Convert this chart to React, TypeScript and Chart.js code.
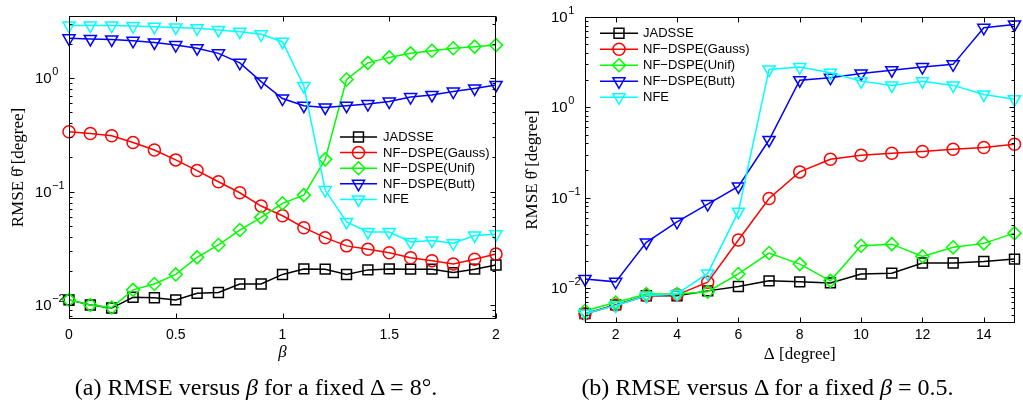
import React, { useEffect, useRef } from 'react';
import { Chart, registerables } from 'chart.js';

Chart.register(...registerables);

// ---------- panel (a): RMSE versus beta, fixed Delta = 8 deg ----------
const betaValues = [0, 0.1, 0.2, 0.3, 0.4, 0.5, 0.6, 0.7, 0.8, 0.9, 1.0, 1.1, 1.2, 1.3, 1.4, 1.5, 1.6, 1.7, 1.8, 1.9, 2.0];
const jadsseVsBeta = [0.0111, 0.01, 0.0094, 0.0117, 0.0116, 0.0111, 0.0127, 0.0129, 0.0153, 0.0153, 0.0186, 0.0208, 0.0207, 0.0186, 0.0204, 0.0208, 0.0207, 0.0207, 0.0193, 0.0207, 0.0225];
const gaussVsBeta = [0.336, 0.325, 0.31, 0.27, 0.232, 0.19, 0.153, 0.122, 0.0975, 0.0745, 0.0612, 0.048, 0.0392, 0.0332, 0.031, 0.0289, 0.0261, 0.0246, 0.023, 0.0253, 0.0281];
const unifVsBeta = [0.0111, 0.01, 0.0095, 0.0136, 0.0153, 0.0186, 0.0263, 0.0338, 0.0458, 0.0592, 0.0787, 0.093, 0.192, 0.97, 1.36, 1.52, 1.65, 1.74, 1.83, 1.89, 1.95];
const buttVsBeta = [2.24, 2.21, 2.19, 2.13, 2.06, 1.95, 1.83, 1.65, 1.36, 0.93, 0.66, 0.57, 0.55, 0.57, 0.59, 0.62, 0.68, 0.71, 0.76, 0.81, 0.87];
const nfeVsBeta = [2.9, 2.9, 2.9, 2.87, 2.83, 2.79, 2.74, 2.65, 2.56, 2.43, 2.09, 0.85, 0.103, 0.054, 0.044, 0.044, 0.036, 0.037, 0.035, 0.041, 0.042];
const betaXTicks = [0, 0.5, 1, 1.5, 2];
const betaXTickLabels = ['0', '0.5', '1', '1.5', '2'];
const betaYTicks = [0.01, 0.1, 1];
const betaYTickExponents = ['\u22122', '\u22121', '0'];

// ---------- panel (b): RMSE versus Delta, fixed beta = 0.5 ----------
const deltaValues = [1, 2, 3, 4, 5, 6, 7, 8, 9, 10, 11, 12, 13, 14, 15];
const jadsseVsDelta = [0.0052, 0.0065, 0.0082, 0.0082, 0.0093, 0.0104, 0.012, 0.0117, 0.0114, 0.0143, 0.0146, 0.0189, 0.0189, 0.0197, 0.0209];
const gaussVsDelta = [0.0052, 0.0065, 0.0082, 0.0084, 0.0116, 0.034, 0.098, 0.193, 0.266, 0.295, 0.31, 0.324, 0.344, 0.359, 0.39];
const unifVsDelta = [0.0056, 0.0069, 0.0086, 0.0086, 0.0091, 0.0143, 0.0244, 0.0184, 0.012, 0.0294, 0.0306, 0.0224, 0.0282, 0.0312, 0.0405];
const buttVsDelta = [0.0126, 0.0117, 0.032, 0.054, 0.085, 0.133, 0.435, 2.0, 2.13, 2.37, 2.58, 2.79, 2.99, 7.6, 8.26];
const nfeVsDelta = [0.0052, 0.0064, 0.0082, 0.0086, 0.0145, 0.07, 2.63, 2.79, 2.42, 1.95, 1.75, 1.95, 1.75, 1.39, 1.23];
const deltaXTicks = [2, 4, 6, 8, 10, 12, 14];
const deltaXTickLabels = ['2', '4', '6', '8', '10', '12', '14'];
const deltaYTicks = [0.01, 0.1, 1, 10];
const deltaYTickExponents = ['\u22122', '\u22121', '0', '1'];

// ---------- series ----------
const seriesNames = ['JADSSE', 'NF\u2212DSPE(Gauss)', 'NF\u2212DSPE(Unif)', 'NF\u2212DSPE(Butt)', 'NFE'];
const seriesColors = ['#000000', '#ff0000', '#00ff00', '#0000ff', '#00ffff'];
const seriesMarkers = ['rect', 'circle', 'rectRot', 'triangle', 'triangle'];
const seriesRotations = [0, 0, 0, 180, 180];
const seriesRadii = [7, 6, 6.5, 7, 7];

const yAxisTitle = 'RMSE \u03B8\u0302 [degree]';

function drawMarker(ctx: CanvasRenderingContext2D, style: string, x: number, y: number, r: number, rotation: number) {
  ctx.beginPath();
  if (style === 'circle') {
    ctx.arc(x, y, r, 0, Math.PI * 2);
  } else if (style === 'rect') {
    const s = r * Math.SQRT1_2;
    ctx.rect(x - s, y - s, 2 * s, 2 * s);
  } else if (style === 'rectRot') {
    ctx.moveTo(x, y - r);
    ctx.lineTo(x + r, y);
    ctx.lineTo(x, y + r);
    ctx.lineTo(x - r, y);
    ctx.closePath();
  } else {
    const rad = (rotation * Math.PI) / 180;
    for (let k = 0; k < 3; k++) {
      const a = rad + (k * 2 * Math.PI) / 3;
      const px = x + Math.sin(a) * r;
      const py = y - Math.cos(a) * r;
      if (k === 0) ctx.moveTo(px, py);
      else ctx.lineTo(px, py);
    }
    ctx.closePath();
  }
  ctx.stroke();
}

type LegendCfg = { lineX0: number; lineX1: number; textX: number; rowY0: number; rowStep: number };

function makeDecor(xTicks: number[], yTicks: number[], yExps: string[], legend: LegendCfg) {
  return {
    id: 'matlabDecor',
    afterDraw(chart: any) {
      const ctx: CanvasRenderingContext2D = chart.ctx;
      const area = chart.chartArea;
      const xs = chart.scales.x;
      const ys = chart.scales.y;
      const L = Math.round(area.left) + 0.5;
      const R = Math.round(area.right) - 0.5;
      const T = Math.round(area.top) + 0.5;
      const B = Math.round(area.bottom) - 0.5;
      ctx.save();
      ctx.strokeStyle = '#000';
      ctx.lineWidth = 1;
      ctx.strokeRect(L, T, R - L, B - T);
      ctx.beginPath();
      const major = 5;
      const minor = 3;
      xTicks.forEach((v) => {
        const px = Math.round(xs.getPixelForValue(v)) + 0.5;
        ctx.moveTo(px, B);
        ctx.lineTo(px, B - major);
        ctx.moveTo(px, T);
        ctx.lineTo(px, T + major);
      });
      yTicks.forEach((v) => {
        const py = Math.round(ys.getPixelForValue(v)) + 0.5;
        ctx.moveTo(L, py);
        ctx.lineTo(L + major, py);
        ctx.moveTo(R, py);
        ctx.lineTo(R - major, py);
      });
      const kMin = Math.floor(Math.log10(ys.min));
      const kMax = Math.ceil(Math.log10(ys.max));
      for (let k = kMin; k <= kMax; k++) {
        for (let m = 2; m <= 9; m++) {
          const v = m * Math.pow(10, k);
          if (v <= ys.min || v >= ys.max) continue;
          const py = Math.round(ys.getPixelForValue(v)) + 0.5;
          ctx.moveTo(L, py);
          ctx.lineTo(L + minor, py);
          ctx.moveTo(R, py);
          ctx.lineTo(R - minor, py);
        }
      }
      ctx.stroke();

      // y tick labels with superscript exponents
      ctx.fillStyle = '#000';
      ctx.textBaseline = 'middle';
      ctx.textAlign = 'left';
      yTicks.forEach((v, i) => {
        const py = ys.getPixelForValue(v);
        const bx = area.left - 34;
        ctx.font = '15px "Liberation Sans", Arial, sans-serif';
        ctx.fillText('10', bx, py + 1);
        const w = ctx.measureText('10').width;
        ctx.font = '11px "Liberation Sans", Arial, sans-serif';
        ctx.fillText(yExps[i], bx + w + 0.5, py - 6);
      });

      // legend
      ctx.font = '13px "Liberation Sans", Arial, sans-serif';
      seriesNames.forEach((name, i) => {
        const y = legend.rowY0 + i * legend.rowStep;
        ctx.strokeStyle = seriesColors[i];
        ctx.lineWidth = 1.5;
        ctx.beginPath();
        ctx.moveTo(legend.lineX0, y);
        ctx.lineTo(legend.lineX1, y);
        ctx.stroke();
        drawMarker(ctx, seriesMarkers[i], (legend.lineX0 + legend.lineX1) / 2, y, seriesRadii[i], seriesRotations[i]);
        ctx.fillStyle = '#000';
        ctx.fillText(name, legend.textX, y + 0.5);
      });
      ctx.restore();
    },
  };
}

type PanelProps = {
  left: number;
  width: number;
  xValues: number[];
  series: number[][];
  xMin: number;
  xMax: number;
  yMin: number;
  yMax: number;
  xTicks: number[];
  xTickLabels: string[];
  yTicks: number[];
  yExps: string[];
  xTitle: string;
  xItalic: boolean;
  yAxisWidth: number;
  xAxisHeight: number;
  padTop: number;
  padRight: number;
  yTitlePad: number;
  xTitlePad: number;
  xTickPad: number;
  legend: LegendCfg;
};

function Panel(p: PanelProps) {
  const ref = useRef<HTMLCanvasElement | null>(null);
  useEffect(() => {
    if (!ref.current) return;
    const datasets = p.series.map((vals, i) => ({
      label: seriesNames[i],
      data: p.xValues.map((x, j) => ({ x, y: vals[j] })),
      borderColor: seriesColors[i],
      backgroundColor: 'rgba(0,0,0,0)',
      borderWidth: 1.5,
      pointStyle: seriesMarkers[i],
      pointRotation: seriesRotations[i],
      pointRadius: seriesRadii[i],
      pointHoverRadius: seriesRadii[i],
      pointBorderWidth: 1.5,
      pointBorderColor: seriesColors[i],
      pointBackgroundColor: 'rgba(0,0,0,0)',
      tension: 0,
      fill: false,
      clip: false as any,
      order: p.series.length - i,
    }));
    const chart = new Chart(ref.current, {
      type: 'line',
      data: { datasets: datasets as any },
      options: {
        animation: false,
        responsive: false,
        devicePixelRatio: 1,
        events: [],
        layout: { padding: { left: 0, top: p.padTop, right: p.padRight, bottom: 0 } },
        plugins: { legend: { display: false }, title: { display: false }, tooltip: { enabled: false } },
        scales: {
          x: {
            type: 'linear',
            min: p.xMin,
            max: p.xMax,
            afterBuildTicks: (s: any) => {
              s.ticks = p.xTicks.map((v) => ({ value: v }));
            },
            afterFit: (s: any) => {
              s.height = p.xAxisHeight;
            },
            ticks: {
              color: '#000',
              font: { family: '"Liberation Sans", Arial, sans-serif', size: 14 },
              padding: p.xTickPad,
              maxRotation: 0,
              autoSkip: false,
              callback: (value: any) => {
                const idx = p.xTicks.indexOf(Number(value));
                return idx >= 0 ? p.xTickLabels[idx] : '';
              },
            },
            grid: { display: false, drawTicks: false },
            border: { display: false },
            title: {
              display: true,
              text: p.xTitle,
              color: '#000',
              font: { family: '"Liberation Serif", "Times New Roman", serif', size: 17, style: p.xItalic ? 'italic' : 'normal' },
              padding: { top: 0, bottom: p.xTitlePad },
            },
          },
          y: {
            type: 'logarithmic',
            min: p.yMin,
            max: p.yMax,
            afterBuildTicks: (s: any) => {
              s.ticks = p.yTicks.map((v) => ({ value: v }));
            },
            afterFit: (s: any) => {
              s.width = p.yAxisWidth;
            },
            ticks: { display: false },
            grid: { display: false, drawTicks: false },
            border: { display: false },
            title: {
              display: true,
              text: yAxisTitle,
              color: '#000',
              font: { family: '"Liberation Serif", "DejaVu Serif", serif', size: 17 },
              padding: { top: p.yTitlePad, bottom: 0 },
            },
          },
        },
      } as any,
      plugins: [makeDecor(p.xTicks, p.yTicks, p.yExps, p.legend) as any],
    });
    return () => chart.destroy();
  }, []);
  return (
    <div style={{ position: 'absolute', left: p.left, top: 0, width: p.width, height: 410 }}>
      <canvas ref={ref} width={p.width} height={410} style={{ display: 'block' }} />
    </div>
  );
}

const captionStyle: React.CSSProperties = {
  position: 'absolute',
  top: 373,
  height: 28,
  lineHeight: '28px',
  textAlign: 'center',
  fontFamily: '"Liberation Serif", "Times New Roman", serif',
  fontSize: 24,
  color: '#000',
  whiteSpace: 'nowrap',
};

export default function App() {
  return (
    <div style={{ position: 'absolute', left: 0, top: 0, width: 1023, height: 410, background: '#fff', overflow: 'hidden' }}>
      <Panel
        left={0}
        width={512}
        xValues={betaValues}
        series={[jadsseVsBeta, gaussVsBeta, unifVsBeta, buttVsBeta, nfeVsBeta]}
        xMin={0}
        xMax={2}
        yMin={0.00753}
        yMax={3.52}
        xTicks={betaXTicks}
        xTickLabels={betaXTickLabels}
        yTicks={betaYTicks}
        yExps={betaYTickExponents}
        xTitle={'\u03B2'}
        xItalic={true}
        yAxisWidth={69}
        xAxisHeight={91}
        padTop={16}
        padRight={16}
        yTitlePad={8.8}
        xTitlePad={47.3}
        xTickPad={8}
        legend={{ lineX0: 340, lineX1: 377, textX: 383, rowY0: 137, rowStep: 15.6 }}
      />
      <Panel
        left={512}
        width={511}
        xValues={deltaValues}
        series={[jadsseVsDelta, gaussVsDelta, unifVsDelta, buttVsDelta, nfeVsDelta]}
        xMin={1}
        xMax={15}
        yMin={0.0041}
        yMax={10}
        xTicks={deltaXTicks}
        xTickLabels={deltaXTickLabels}
        yTicks={deltaYTicks}
        yExps={deltaYTickExponents}
        xTitle={'\u0394 [degree]'}
        xItalic={false}
        yAxisWidth={73}
        xAxisHeight={87}
        padTop={17}
        padRight={8}
        yTitlePad={10.8}
        xTitlePad={44.8}
        xTickPad={4}
        legend={{ lineX0: 88, lineX1: 126, textX: 131, rowY0: 33.3, rowStep: 16 }}
      />
      <div style={{ ...captionStyle, left: 0, width: 512 }}>
        (a) RMSE versus <i>{'\u03B2'}</i> for a fixed {'\u0394'} = 8{'\u00B0'}.
      </div>
      <div style={{ ...captionStyle, left: 512, width: 511 }}>
        (b) RMSE versus {'\u0394'} for a fixed <i>{'\u03B2'}</i> = 0.5.
      </div>
    </div>
  );
}
